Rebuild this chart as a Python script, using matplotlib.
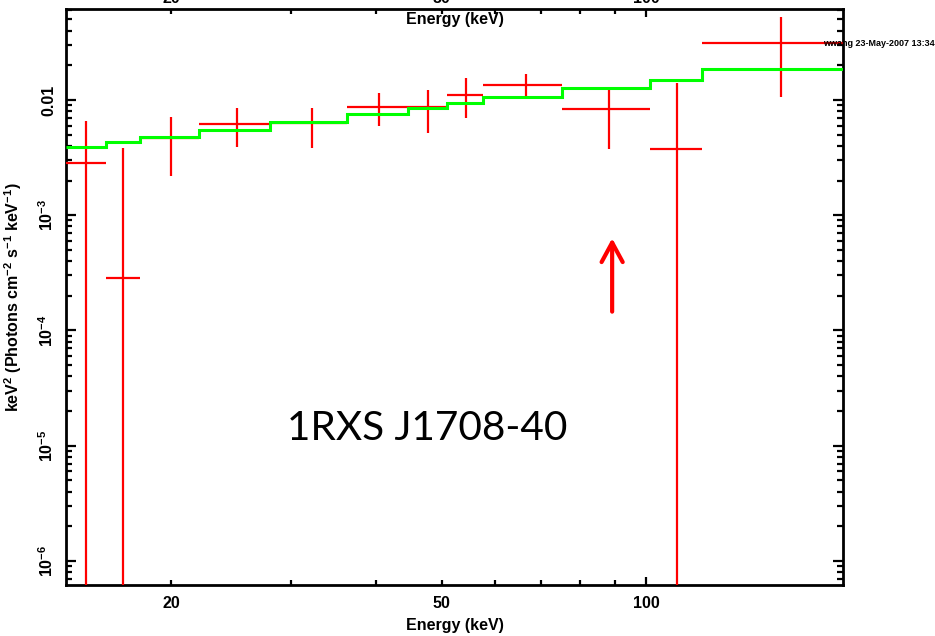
import numpy as np
import matplotlib
matplotlib.use("Agg")
import matplotlib.pyplot as plt
from matplotlib.ticker import FixedLocator, FuncFormatter, NullFormatter

plt.rcParams['font.family'] = ['Liberation Sans', 'DejaVu Sans']
plt.rcParams['mathtext.fontset'] = 'custom'
plt.rcParams['mathtext.rm'] = 'Liberation Sans:bold'
plt.rcParams['mathtext.bf'] = 'Liberation Sans:bold'
plt.rcParams['mathtext.it'] = 'Liberation Sans:bold'

# ---- data ----
bin_edges = [14.02, 16.05, 18.0, 22.0, 28.0, 36.3, 44.6, 51.0, 57.6, 75.3, 101.3, 120.8, 194.7]
energy    = [15.0, 17.0, 20.0, 25.0, 32.2, 40.4, 47.8, 54.3, 66.5, 88.2, 110.8, 157.6]
flux      = [2.86e-3, 2.85e-4, 4.71e-3, 6.23e-3, 6.28e-3, 8.70e-3, 8.70e-3, 1.112e-2,
             1.349e-2, 8.30e-3, 3.78e-3, 3.124e-2]
flux_hi   = [6.61e-3, 3.86e-3, 7.16e-3, 8.47e-3, 8.47e-3, 1.143e-2, 1.22e-2, 1.543e-2,
             1.681e-2, 1.253e-2, 1.396e-2, 5.28e-2]
# lower bounds; 1e-12 = consistent with zero (falls below the plotted range)
flux_lo   = [1e-12, 1e-12, 2.19e-3, 3.94e-3, 3.86e-3, 5.98e-3, 5.20e-3, 6.94e-3,
             1.014e-2, 3.73e-3, 1e-12, 1.055e-2]
model     = [3.93e-3, 4.30e-3, 4.75e-3, 5.53e-3, 6.44e-3, 7.60e-3, 8.52e-3, 9.36e-3,
             1.055e-2, 1.278e-2, 1.50e-2, 1.846e-2]

arrow_x = 89.1
arrow_tail = 1.456e-4
arrow_tip = 6.31e-4

x_major = [100]
x_minor = [20, 30, 40, 50, 60, 70, 80, 90]
x_minor_labels = {20: '20', 50: '50'}
y_ticks = [1e-6, 1e-5, 1e-4, 1e-3, 1e-2]
y_labels = [r'$\mathbf{10^{-6}}$', r'$\mathbf{10^{-5}}$', r'$\mathbf{10^{-4}}$',
            r'$\mathbf{10^{-3}}$', '0.01']
y_limits = (6.19e-7, 0.0615)

# ---- figure ----
fig = plt.figure(figsize=(9.35, 6.36), dpi=100)
ax = fig.add_axes([0.0706, 0.0802, 0.831, 0.9056])
ax.set_xscale('log')
ax.set_yscale('log')

e = np.array(energy)
lo_edge = np.array(bin_edges[:-1])
hi_edge = np.array(bin_edges[1:])
f = np.array(flux)
xerr = [e - lo_edge, hi_edge - e]
yerr = [f - np.array(flux_lo), np.array(flux_hi) - f]
ax.errorbar(e, f, xerr=xerr, yerr=yerr, fmt='none', ecolor='#ff0000',
            elinewidth=1.6, capsize=0, zorder=3)

ax.stairs(model, bin_edges, baseline=None, color='#00ff00', linewidth=2.2, zorder=4)

ax.annotate('', xy=(arrow_x, arrow_tip), xytext=(arrow_x, arrow_tail),
            arrowprops=dict(arrowstyle='->,head_length=0.7,head_width=0.38',
                            color='#ff0000', lw=3.0, mutation_scale=20,
                            shrinkA=0, shrinkB=0))

ax.set_xlim(bin_edges[0], bin_edges[-1])
ax.set_ylim(*y_limits)

fmt_major = FuncFormatter(lambda v, p: '%d' % v)
fmt_minor = FuncFormatter(lambda v, p: x_minor_labels.get(int(round(v)), ''))

ax.xaxis.set_major_locator(FixedLocator(x_major))
ax.xaxis.set_minor_locator(FixedLocator(x_minor))
ax.xaxis.set_major_formatter(fmt_major)
ax.xaxis.set_minor_formatter(fmt_minor)

ax.set_yticks(y_ticks)
ax.set_yticklabels(y_labels, rotation=90, va='center')
ax.yaxis.set_minor_formatter(NullFormatter())

for s in ax.spines.values():
    s.set_linewidth(2.0)

ax.tick_params(axis='both', which='both', direction='in', top=True, right=True,
               labeltop=False, width=1.6, labelsize=11.5)
ax.tick_params(axis='x', which='major', length=6, pad=8)
ax.tick_params(axis='x', which='minor', length=3.5, pad=8)
ax.tick_params(axis='y', which='major', length=7.5, pad=7)
ax.tick_params(axis='y', which='minor', length=4.5)
for lab in ax.get_xticklabels(which='both'):
    lab.set_fontweight('bold')
for lab in ax.get_yticklabels():
    lab.set_fontweight('bold')

# top tick labels (partly outside the figure, as in the original)
sec = ax.secondary_xaxis('top')
sec.xaxis.set_major_locator(FixedLocator(x_major))
sec.xaxis.set_minor_locator(FixedLocator(x_minor))
sec.xaxis.set_major_formatter(fmt_major)
sec.xaxis.set_minor_formatter(fmt_minor)
sec.tick_params(axis='x', which='both', length=0, pad=2.0, labelsize=11.5)
sec.spines['top'].set_visible(False)
for lab in sec.get_xticklabels(which='both'):
    lab.set_fontweight('bold')

ax.set_xlabel('Energy (keV)', fontsize=11.5, fontweight='bold')
ax.xaxis.set_label_coords(0.5, -0.058)
ax.set_ylabel(r'keV$^{2}$ (Photons cm$^{-2}$ s$^{-1}$ keV$^{-1}$)', fontsize=11.5,
              fontweight='bold')
ax.yaxis.set_label_coords(-0.054, 0.5)

ax.text(0.5, 0.981, 'Energy (keV)', transform=ax.transAxes, ha='center', va='center',
        fontsize=11.5, fontweight='bold')

ax.text(0.465, 0.272, '1RXS J1708-40', transform=ax.transAxes, ha='center', va='center',
        fontsize=29.2, family=['Lato', 'DejaVu Sans'])

fig.text(0.9995, 0.932, 'wwang 23-May-2007 13:34', ha='right', va='center',
         fontsize=6.5, fontweight='bold', zorder=10)

fig.savefig('out.png', dpi=100)
